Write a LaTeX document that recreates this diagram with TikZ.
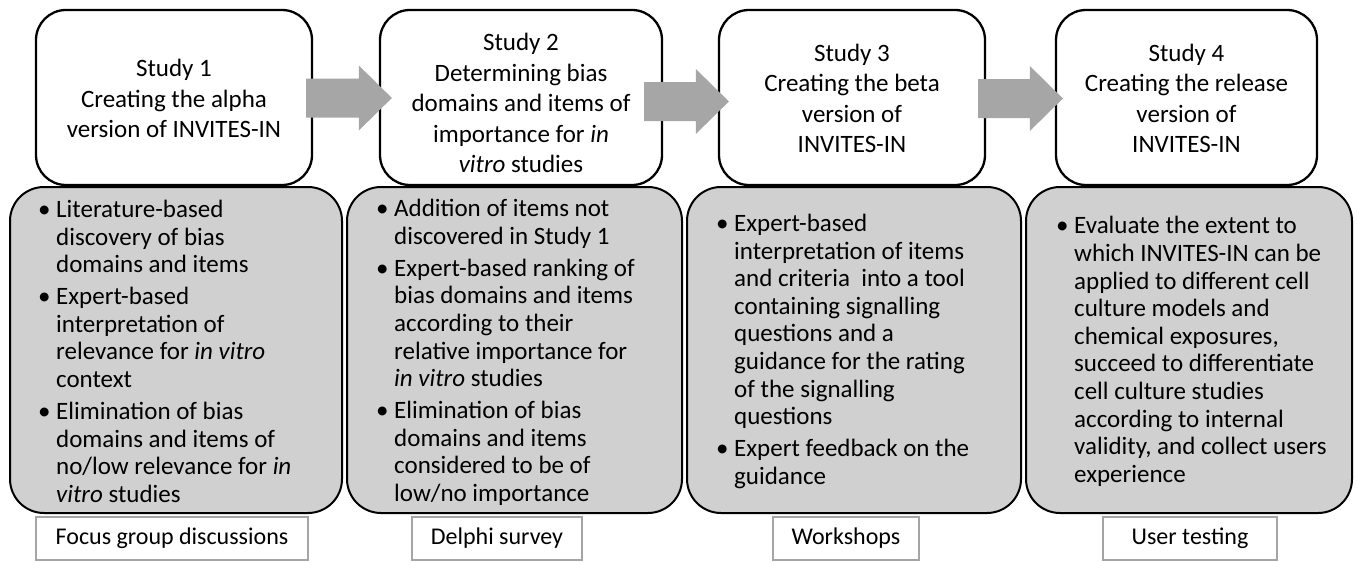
\documentclass[tikz,border=0pt]{standalone}
\usepackage{fontspec}
\setmainfont{Carlito}
\usetikzlibrary{calc}

\definecolor{panelgray}{RGB}{208,208,208}
\definecolor{arrowgray}{RGB}{166,166,166}
\definecolor{tagline}{RGB}{165,165,165}

\newcommand\stagefont{\fontsize{25}{30.5}\selectfont}
\newcommand\listfont{\fontsize{25}{27.6}\selectfont}
\newcommand\tagfont{\fontsize{24}{28}\selectfont}

% one bullet item with hanging indent
\newcommand\bul{\par\hangindent=17pt\hangafter=1\noindent\makebox[17pt][l]{\hspace{-1pt}•}}

% block arrow from one stage box into the next
% #1 from, #2 to, #3 start offset, #4 tip offset, #5 vertical shift
\newcommand\flowarrow[5]{%
  \fill[arrowgray] let \p1=($(#1.east)+(#3,0)+(0pt,#5)$),
                       \p2=($(#2.west)+(#4,0)+(0pt,#5)$) in
    (\x1,\y1+19.5pt) -- (\x2-33pt,\y1+19.5pt) -- (\x2-33pt,\y1+32.5pt)
    -- (\x2,\y1) -- (\x2-33pt,\y1-32.5pt) -- (\x2-33pt,\y1-19.5pt)
    -- (\x1,\y1-19.5pt) -- cycle;}

\tikzset{
  stage/.style={draw=black, line width=2.3pt, rounded corners=30pt, fill=white,
                minimum height=175pt, inner sep=0pt},
  stagetext/.style={align=center, font=\stagefont, inner sep=0pt},
  panel/.style={draw=black, line width=2pt, rounded corners=34pt, fill=panelgray,
                minimum height=326pt, inner sep=0pt},
  listtext/.style={anchor=west, text width=300pt, inner sep=0pt, font=\listfont,
                execute at begin node={\raggedright\spaceskip=\fontdimen2\font\relax
                  \setlength{\parskip}{4.5pt}}},
  tag/.style={draw=tagline, line width=1.6pt, fill=white, font=\tagfont,
                minimum height=43pt, inner sep=0pt},
}

\begin{document}
\begin{tikzpicture}[x=1pt,y=-1pt]
\useasboundingbox (0,0) rectangle (1357,562);

% grey panels with the activities of each study
\node[panel, minimum width=332pt] (p1) at (176,350) {};
\node[panel, minimum width=335pt] (p2) at (514.5,350) {};
\node[panel, minimum width=334pt] (p3) at (854,350) {};
\node[panel, minimum width=326pt] (p4) at (1189,350) {};

\node[listtext] (t1) at ($(p1.west)+(30,-6)$) {%
\bul Literature-based\newline discovery of bias\newline domains and items
\bul Expert-based\newline interpretation of\newline relevance for \textit{in vitro}\newline context
\bul Elimination of bias\newline domains and items of\newline no/low relevance for \textit{in}\newline \textit{vitro} studies\par};

\node[listtext] (t2) at ($(p2.west)+(31,-5)$) {%
\bul Addition of items not\newline discovered in Study 1
\bul Expert-based ranking of\newline bias domains and items\newline according to their\newline relative importance for\newline \textit{in vitro} studies
\bul Elimination of bias\newline domains and items\newline considered to be of\newline low/no importance\par};

\node[listtext] (t3) at ($(p3.west)+(31,-6)$) {%
\bul Expert-based\newline interpretation of items\newline and criteria~ into a tool\newline containing signalling\newline questions and a\newline guidance for the rating\newline of the signalling\newline questions
\bul Expert feedback on the\newline guidance\par};

\node[listtext] (t4) at ($(p4.west)+(32,-6)$) {%
\bul Evaluate the extent to\newline which INVITES-IN can be\newline applied to different cell\newline culture models and\newline chemical exposures,\newline succeed to differentiate\newline cell culture studies\newline according to internal\newline validity, and collect users\newline experience\par};

% study boxes
\node[stage, minimum width=276pt] (s1) at (174,97.5) {};
\node[stage, minimum width=282pt] (s2) at (521,97.5) {};
\node[stage, minimum width=266pt] (s3) at (852,97.5) {};
\node[stage, minimum width=261pt] (s4) at (1186.5,97.5) {};

\node[stagetext] (h1) at ($(s1.center)+(0,1)$)
  {Study 1\\Creating the alpha\\version of INVITES-IN};
\node[stagetext] (h2) at ($(s2.center)+(0,5.5)$)
  {Study 2\\Determining bias\\domains and items of\\importance for \textit{in}\\\textit{vitro} studies};
\node[stagetext] (h3) at ($(s3.center)+(0,1)$)
  {Study 3\\Creating the beta\\version of\\INVITES-IN};
\node[stagetext] (h4) at ($(s4.center)+(0,1)$)
  {Study 4\\Creating the release\\version of\\INVITES-IN};

% methods
\node[tag, minimum width=272pt] (m1) at (172,538.5) {Focus group discussions};
\node[tag, minimum width=170pt] (m2) at (497,538.5) {Delphi survey};
\node[tag, minimum width=146pt] (m3) at (846,538.5) {Workshops};
\node[tag, minimum width=174pt] (m4) at (1190,538.5) {User testing};

% arrows between the studies
\flowarrow{s1}{s2}{-7}{13}{-0.5pt}
\flowarrow{s2}{s3}{-19}{11}{-4pt}
\flowarrow{s3}{s4}{-8}{8}{-1pt}
\end{tikzpicture}
\end{document}
